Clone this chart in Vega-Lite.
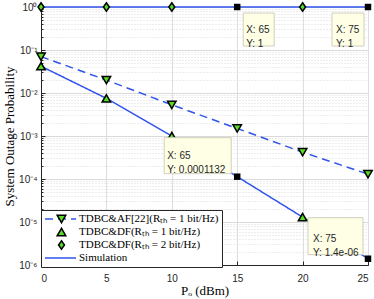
{
  "$schema": "https://vega.github.io/schema/vega-lite/v6.json",
  "width": 327,
  "height": 258,
  "autosize": {"type": "none"},
  "padding": {"left": 41, "top": 7, "right": 6, "bottom": 34},
  "background": "white",
  "config": {"view": {"stroke": "#262626", "strokeWidth": 1}, "font": "Liberation Sans"},
  "datasets": {
    "curves": [
      {"curve": "af", "series": "TDBC&AF[22](Rₜₕ = 1 bit/Hz)", "x": 0, "y": 0.07},
      {"curve": "af", "series": "TDBC&AF[22](Rₜₕ = 1 bit/Hz)", "x": 5, "y": 0.02},
      {"curve": "af", "series": "TDBC&AF[22](Rₜₕ = 1 bit/Hz)", "x": 10, "y": 0.0053},
      {"curve": "af", "series": "TDBC&AF[22](Rₜₕ = 1 bit/Hz)", "x": 15, "y": 0.0015},
      {"curve": "af", "series": "TDBC&AF[22](Rₜₕ = 1 bit/Hz)", "x": 20, "y": 0.00042},
      {"curve": "af", "series": "TDBC&AF[22](Rₜₕ = 1 bit/Hz)", "x": 25, "y": 0.00013},
      {"curve": "s1", "series": "Simulation", "x": 0, "y": 0.042},
      {"curve": "s1", "series": "Simulation", "x": 5, "y": 0.0075},
      {"curve": "s1", "series": "Simulation", "x": 10, "y": 0.001},
      {"curve": "s1", "series": "Simulation", "x": 15, "y": 0.0001132},
      {"curve": "s1", "series": "Simulation", "x": 20, "y": 0.000013},
      {"curve": "s1", "series": "Simulation", "x": 25, "y": 0.0000014},
      {"curve": "s2", "series": "Simulation", "x": 0, "y": 1},
      {"curve": "s2", "series": "Simulation", "x": 5, "y": 1},
      {"curve": "s2", "series": "Simulation", "x": 10, "y": 1},
      {"curve": "s2", "series": "Simulation", "x": 15, "y": 1},
      {"curve": "s2", "series": "Simulation", "x": 20, "y": 1},
      {"curve": "s2", "series": "Simulation", "x": 25, "y": 1}
    ],
    "markers": [
      {"mk": "TDBC&AF[22](Rₜₕ = 1 bit/Hz)", "x": 0, "y": 0.07},
      {"mk": "TDBC&AF[22](Rₜₕ = 1 bit/Hz)", "x": 5, "y": 0.02},
      {"mk": "TDBC&AF[22](Rₜₕ = 1 bit/Hz)", "x": 10, "y": 0.0053},
      {"mk": "TDBC&AF[22](Rₜₕ = 1 bit/Hz)", "x": 15, "y": 0.0015},
      {"mk": "TDBC&AF[22](Rₜₕ = 1 bit/Hz)", "x": 20, "y": 0.00042},
      {"mk": "TDBC&AF[22](Rₜₕ = 1 bit/Hz)", "x": 25, "y": 0.00013},
      {"mk": "TDBC&DF(Rₜₕ = 1 bit/Hz)", "x": 0, "y": 0.042},
      {"mk": "TDBC&DF(Rₜₕ = 1 bit/Hz)", "x": 5, "y": 0.0075},
      {"mk": "TDBC&DF(Rₜₕ = 1 bit/Hz)", "x": 10, "y": 0.001},
      {"mk": "TDBC&DF(Rₜₕ = 1 bit/Hz)", "x": 20, "y": 0.000013},
      {"mk": "TDBC&DF(Rₜₕ = 2 bit/Hz)", "x": 0, "y": 1},
      {"mk": "TDBC&DF(Rₜₕ = 2 bit/Hz)", "x": 5, "y": 1},
      {"mk": "TDBC&DF(Rₜₕ = 2 bit/Hz)", "x": 10, "y": 1},
      {"mk": "TDBC&DF(Rₜₕ = 2 bit/Hz)", "x": 20, "y": 1}
    ],
    "tips": [
      {"id": 1, "x": 15, "y": 1, "t": ["X: 65", "Y: 1"]},
      {"id": 2, "x": 25, "y": 1, "t": ["X: 75", "Y: 1"]},
      {"id": 3, "x": 15, "y": 0.0001132, "t": ["X: 65", "Y: 0.0001132"]},
      {"id": 4, "x": 25, "y": 0.0000014, "t": ["X: 75", "Y: 1.4e-06"]}
    ]
  },
  "layer": [
    {
      "data": {"name": "curves"},
      "mark": {"type": "line", "strokeWidth": 1.5},
      "encoding": {
        "x": {
          "field": "x", "type": "quantitative",
          "scale": {"domain": [0, 25], "nice": false},
          "axis": {
            "values": [0, 5, 10, 15, 20, 25],
            "title": "Pₒ (dBm)",
            "titleFont": "Liberation Serif", "titleFontSize": 13, "titleFontWeight": "normal", "titleColor": "black",
            "titlePadding": 1,
            "labelFont": "Liberation Sans", "labelFontSize": 10, "labelColor": "#262626",
            "labelPadding": 12, "tickSize": -4, "tickColor": "#262626", "domainColor": "#262626",
            "grid": true, "gridColor": "#dedede"
          }
        },
        "y": {
          "field": "y", "type": "quantitative",
          "scale": {"type": "log", "domain": [0.000001, 1], "nice": false},
          "axis": {
            "values": [0.000001, 0.000002, 0.000003, 0.000004, 0.000005, 0.000006, 0.000007, 0.000008, 0.000009,
                       0.00001, 0.00002, 0.00003, 0.00004, 0.00005, 0.00006, 0.00007, 0.00008, 0.00009,
                       0.0001, 0.0002, 0.0003, 0.0004, 0.0005, 0.0006, 0.0007, 0.0008, 0.0009,
                       0.001, 0.002, 0.003, 0.004, 0.005, 0.006, 0.007, 0.008, 0.009,
                       0.01, 0.02, 0.03, 0.04, 0.05, 0.06, 0.07, 0.08, 0.09,
                       0.1, 0.2, 0.3, 0.4, 0.5, 0.6, 0.7, 0.8, 0.9, 1],
            "labelExpr": "abs(log(datum.value)/LN10 - round(log(datum.value)/LN10)) < 0.001 ? ('10' + (datum.value > 0.5 ? '⁰' : '⁻' + ['⁰','¹','²','³','⁴','⁵','⁶'][round(-log(datum.value)/LN10)])) : ''",
            "labelOverlap": false,
            "title": "System Outage Probability",
            "titleFont": "Liberation Serif", "titleFontSize": 13, "titleFontWeight": "normal", "titleColor": "black",
            "titlePadding": 2,
            "labelFont": "Liberation Sans", "labelFontSize": 10, "labelColor": "#262626",
            "labelPadding": 8,
            "tickSize": {"condition": {"test": "abs(log(datum.value)/LN10 - round(log(datum.value)/LN10)) < 0.001", "value": -4}, "value": -2},
            "tickColor": "#262626", "domainColor": "#262626",
            "grid": true,
            "gridColor": "#dadada",
            "gridDash": {"condition": {"test": "abs(log(datum.value)/LN10 - round(log(datum.value)/LN10)) < 0.001", "value": []}, "value": [1, 2]}
          }
        },
        "color": {
          "field": "series", "type": "nominal",
          "scale": {
            "domain": ["TDBC&AF[22](Rₜₕ = 1 bit/Hz)", "TDBC&DF(Rₜₕ = 1 bit/Hz)", "TDBC&DF(Rₜₕ = 2 bit/Hz)", "Simulation"],
            "range": ["#2f54eb", "transparent", "transparent", "#2f54eb"]
          },
          "legend": {
            "title": null, "orient": "none", "legendX": 0, "legendY": 203,
            "symbolType": "stroke", "symbolSize": 961, "symbolStrokeWidth": 1.5,
            "labelFont": "Liberation Serif", "labelFontSize": 11, "labelColor": "black", "labelLimit": 300,
            "labelOffset": 2, "fillColor": "white", "strokeColor": "#262626", "padding": 3,
            "clipHeight": 12, "rowPadding": 1, "zindex": 1
          }
        },
        "strokeDash": {
          "field": "series", "type": "nominal",
          "scale": {
            "domain": ["TDBC&AF[22](Rₜₕ = 1 bit/Hz)", "TDBC&DF(Rₜₕ = 1 bit/Hz)", "TDBC&DF(Rₜₕ = 2 bit/Hz)", "Simulation"],
            "range": [[8, 5], [1, 0], [1, 0], [1, 0]]
          }
        },
        "detail": {"field": "curve"}
      }
    },
    {
      "data": {"name": "markers"},
      "mark": {"type": "point", "filled": false, "fill": "#55dd22", "fillOpacity": 1, "stroke": "#000000", "strokeWidth": 1.5, "strokeOpacity": 1, "size": 72, "opacity": 1},
      "encoding": {
        "x": {"field": "x", "type": "quantitative"},
        "y": {"field": "y", "type": "quantitative"},
        "shape": {
          "field": "mk", "type": "nominal",
          "scale": {
            "domain": ["TDBC&AF[22](Rₜₕ = 1 bit/Hz)", "TDBC&DF(Rₜₕ = 1 bit/Hz)", "TDBC&DF(Rₜₕ = 2 bit/Hz)"],
            "range": ["triangle-down", "triangle-up", "M0,-1L0.7,0L0,1L-0.7,0Z"]
          },
          "legend": {
            "title": null, "orient": "none", "legendX": 12, "legendY": 203,
            "symbolSize": 72,
            "labelExpr": "''", "labelFont": "Liberation Serif", "labelFontSize": 11,
            "padding": 3, "clipHeight": 12, "rowPadding": 1, "zindex": 2,
            "encode": {
              "symbols": {
                "update": {
                  "fill": {"value": "#55dd22"},
                  "stroke": {"value": "#000000"},
                  "strokeWidth": {"value": 1.5},
                  "opacity": {"value": 1},
                  "fillOpacity": {"value": 1},
                  "strokeOpacity": {"value": 1}
                }
              }
            }
          }
        }
      }
    },
    {
      "data": {"name": "tips"},
      "mark": {"type": "square", "filled": true, "color": "black", "size": 42, "opacity": 1},
      "encoding": {
        "x": {"field": "x", "type": "quantitative"},
        "y": {"field": "y", "type": "quantitative"}
      }
    },
    {
      "data": {"name": "tips"},
      "transform": [{"filter": "datum.id == 1"}],
      "mark": {"type": "rect", "fill": "#ffffe6", "stroke": "#cfcfbd", "strokeWidth": 1, "xOffset": 6, "x2Offset": 37, "yOffset": 6, "y2Offset": 39},
      "encoding": {"x": {"field": "x", "type": "quantitative"}, "x2": {"field": "x"}, "y": {"field": "y", "type": "quantitative"}, "y2": {"field": "y"}}
    },
    {
      "data": {"name": "tips"},
      "transform": [{"filter": "datum.id == 2"}],
      "mark": {"type": "rect", "fill": "#ffffe6", "stroke": "#cfcfbd", "strokeWidth": 1, "xOffset": -36, "x2Offset": -4, "yOffset": 6, "y2Offset": 39},
      "encoding": {"x": {"field": "x", "type": "quantitative"}, "x2": {"field": "x"}, "y": {"field": "y", "type": "quantitative"}, "y2": {"field": "y"}}
    },
    {
      "data": {"name": "tips"},
      "transform": [{"filter": "datum.id == 3"}],
      "mark": {"type": "rect", "fill": "#ffffe6", "stroke": "#cfcfbd", "strokeWidth": 1, "xOffset": -73, "x2Offset": -6, "yOffset": -39, "y2Offset": -3},
      "encoding": {"x": {"field": "x", "type": "quantitative"}, "x2": {"field": "x"}, "y": {"field": "y", "type": "quantitative"}, "y2": {"field": "y"}}
    },
    {
      "data": {"name": "tips"},
      "transform": [{"filter": "datum.id == 4"}],
      "mark": {"type": "rect", "fill": "#ffffe6", "stroke": "#cfcfbd", "strokeWidth": 1, "xOffset": -60, "x2Offset": -5, "yOffset": -41, "y2Offset": -4},
      "encoding": {"x": {"field": "x", "type": "quantitative"}, "x2": {"field": "x"}, "y": {"field": "y", "type": "quantitative"}, "y2": {"field": "y"}}
    },
    {
      "data": {"name": "tips"},
      "transform": [{"filter": "datum.id == 1"}],
      "mark": {"type": "text", "align": "left", "baseline": "middle", "lineHeight": 14, "font": "Liberation Sans", "fontSize": 10, "color": "#262626", "dx": 9, "dy": 23},
      "encoding": {"x": {"field": "x", "type": "quantitative"}, "y": {"field": "y", "type": "quantitative"}, "text": {"field": "t"}}
    },
    {
      "data": {"name": "tips"},
      "transform": [{"filter": "datum.id == 2"}],
      "mark": {"type": "text", "align": "left", "baseline": "middle", "lineHeight": 14, "font": "Liberation Sans", "fontSize": 10, "color": "#262626", "dx": -32, "dy": 23},
      "encoding": {"x": {"field": "x", "type": "quantitative"}, "y": {"field": "y", "type": "quantitative"}, "text": {"field": "t"}}
    },
    {
      "data": {"name": "tips"},
      "transform": [{"filter": "datum.id == 3"}],
      "mark": {"type": "text", "align": "left", "baseline": "middle", "lineHeight": 14, "font": "Liberation Sans", "fontSize": 10, "color": "#262626", "dx": -70, "dy": -21},
      "encoding": {"x": {"field": "x", "type": "quantitative"}, "y": {"field": "y", "type": "quantitative"}, "text": {"field": "t"}}
    },
    {
      "data": {"name": "tips"},
      "transform": [{"filter": "datum.id == 4"}],
      "mark": {"type": "text", "align": "left", "baseline": "middle", "lineHeight": 14, "font": "Liberation Sans", "fontSize": 10, "color": "#262626", "dx": -55, "dy": -20},
      "encoding": {"x": {"field": "x", "type": "quantitative"}, "y": {"field": "y", "type": "quantitative"}, "text": {"field": "t"}}
    }
  ]
}
